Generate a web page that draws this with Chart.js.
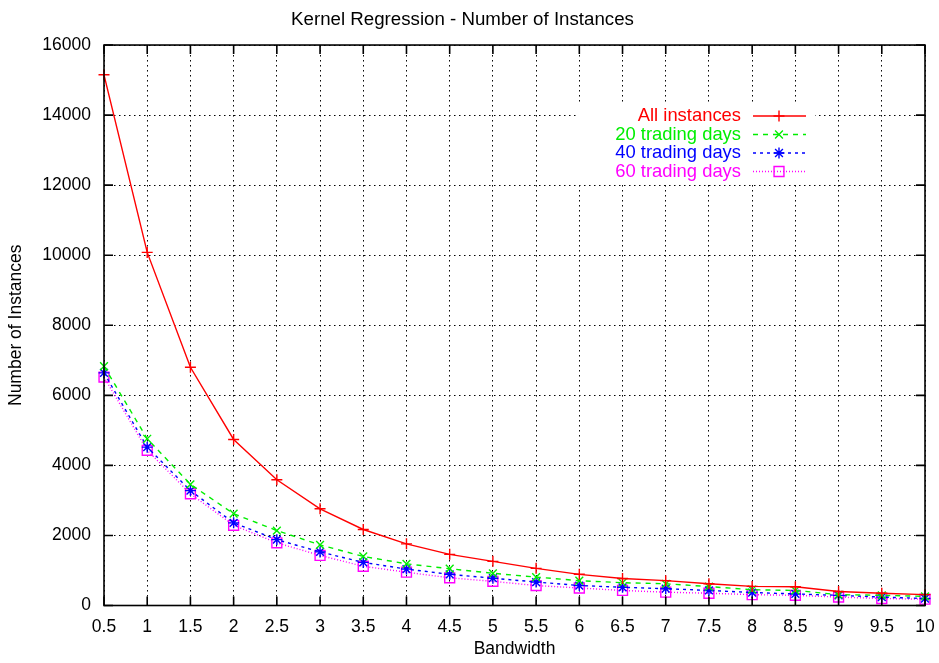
<!DOCTYPE html>
<html lang="en">
<head>
<meta charset="UTF-8">
<title>Kernel Regression - Number of Instances</title>
<script src="https://cdn.jsdelivr.net/npm/chart.js"></script>
<style>
  html, body { margin: 0; padding: 0; background: #fff; }
  #wrap { width: 939px; height: 663px; }
</style>
</head>
<body>
<div id="wrap"><canvas id="chart" width="939" height="663"></canvas></div>
<script>
// values
const bandwidth = [0.5, 1, 1.5, 2, 2.5, 3, 3.5, 4, 4.5, 5, 5.5, 6, 6.5, 7, 7.5, 8, 8.5, 9, 9.5, 10];
const allInstances = [15150, 10080, 6800, 4740, 3590, 2760, 2170, 1760, 1460, 1260, 1060, 890, 770, 710, 620, 545, 535, 400, 350, 310];
const days20 = [6830, 4760, 3460, 2620, 2140, 1730, 1400, 1190, 1050, 920, 810, 710, 650, 620, 540, 450, 430, 310, 290, 260];
const days40 = [6640, 4520, 3280, 2360, 1880, 1530, 1230, 1040, 890, 780, 670, 570, 520, 480, 430, 370, 330, 290, 240, 200];
const days60 = [6520, 4430, 3190, 2290, 1790, 1430, 1120, 950, 790, 690, 570, 500, 430, 380, 350, 310, 290, 240, 200, 180];
const seriesNames = ['All instances', '20 trading days', '40 trading days', '60 trading days'];
const xTicks = [0.5, 1, 1.5, 2, 2.5, 3, 3.5, 4, 4.5, 5, 5.5, 6, 6.5, 7, 7.5, 8, 8.5, 9, 9.5, 10];
const yTicks = [0, 2000, 4000, 6000, 8000, 10000, 12000, 14000, 16000];

const FONT = '"Liberation Sans", Arial, Helvetica, sans-serif';

function pts(arr) {
  return bandwidth.map((b, i) => ({ x: b, y: arr[i] }));
}

function ds(label, arr, color, dash, style, radius) {
  return {
    label: label,
    data: pts(arr),
    borderColor: color,
    backgroundColor: color,
    borderWidth: 1.4,
    borderDash: dash,
    pointStyle: style,
    pointRadius: radius,
    pointBorderWidth: 1.4,
    pointBorderColor: color,
    pointBackgroundColor: 'rgba(0,0,0,0)',
    tension: 0,
    clip: false
  };
}

// gnuplot-like frame, inward ticks and the boxed key
const gnuplotBits = {
  id: 'gnuplotBits',
  beforeDatasetsDraw(chart) {
    const ctx = chart.ctx;
    ctx.save();
    ctx.fillStyle = '#fff';
    ctx.fillRect(576, 104, 239, 78);
    ctx.restore();
  },
  afterDraw(chart) {
    const ctx = chart.ctx;
    const a = chart.chartArea;
    const xs = chart.scales.x, ys = chart.scales.y;
    ctx.save();
    ctx.strokeStyle = '#000';
    ctx.lineWidth = 1.6;
    ctx.setLineDash([]);
    ctx.strokeRect(a.left, a.top, a.right - a.left, a.bottom - a.top);
    const tl = 9;
    ctx.beginPath();
    xTicks.forEach(v => {
      const px = xs.getPixelForValue(v);
      ctx.moveTo(px, a.bottom); ctx.lineTo(px, a.bottom - tl);
      ctx.moveTo(px, a.top); ctx.lineTo(px, a.top + tl);
    });
    yTicks.forEach(v => {
      const py = ys.getPixelForValue(v);
      ctx.moveTo(a.left, py); ctx.lineTo(a.left + tl, py);
      ctx.moveTo(a.right, py); ctx.lineTo(a.right - tl, py);
    });
    ctx.stroke();

    // key
    ctx.font = '18.4px ' + FONT;
    ctx.textAlign = 'right';
    ctx.textBaseline = 'middle';
    const rowY = [116, 134.5, 153, 171.5];
    chart.data.datasets.forEach((d, i) => {
      const y = rowY[i];
      ctx.fillStyle = d.borderColor;
      ctx.fillText(d.label, 741, y);
      ctx.strokeStyle = d.borderColor;
      ctx.lineWidth = d.borderWidth;
      ctx.setLineDash(d.borderDash || []);
      ctx.beginPath();
      ctx.moveTo(753, y); ctx.lineTo(806, y);
      ctx.stroke();
      ctx.setLineDash([]);
      ctx.fillStyle = 'rgba(0,0,0,0)';
      Chart.helpers.drawPoint(ctx, {
        pointStyle: d.pointStyle, radius: d.pointRadius, rotation: 0, borderWidth: d.pointBorderWidth
      }, 779, y);
    });
    ctx.restore();
  }
};

new Chart(document.getElementById('chart'), {
  type: 'line',
  data: {
    datasets: [
      ds(seriesNames[0], allInstances, '#ff0000', [], 'cross', 5.5),
      ds(seriesNames[1], days20, '#00ee00', [5, 5], 'crossRot', 5.5),
      ds(seriesNames[2], days40, '#0000ff', [3, 4], 'star', 5.5),
      ds(seriesNames[3], days60, '#ff00ff', [1, 2], 'rect', 7)
    ]
  },
  options: {
    responsive: false,
    animation: false,
    layout: { padding: { top: 0, right: 14, bottom: 0, left: 0 } },
    plugins: {
      legend: { display: false },
      tooltip: { enabled: false },
      title: {
        display: true,
        text: 'Kernel Regression - Number of Instances',
        color: '#000',
        font: { family: FONT, size: 18.7, weight: 'normal' },
        padding: { top: 9, bottom: 13.6 }
      }
    },
    scales: {
      x: {
        type: 'linear',
        min: 0.5,
        max: 10,
        afterBuildTicks: s => { s.ticks = xTicks.map(v => ({ value: v })); },
        afterFit: s => { s.height = 57.5; s.paddingLeft = 0; s.paddingRight = 0; },
        ticks: {
          color: '#000',
          padding: 11,
          maxRotation: 0,
          autoSkip: false,
          font: { family: FONT, size: 17.5 },
          callback: v => String(v)
        },
        grid: { color: '#000', lineWidth: 1, drawTicks: false },
        border: { display: false, dash: [1.5, 3.5] },
        title: {
          display: true,
          text: 'Bandwidth',
          color: '#000',
          font: { family: FONT, size: 17.5 },
          padding: { top: 0, bottom: 3 }
        }
      },
      y: {
        type: 'linear',
        min: 0,
        max: 16000,
        afterBuildTicks: s => { s.ticks = yTicks.map(v => ({ value: v })); },
        afterFit: s => { s.width = 104; s.paddingTop = 0; s.paddingBottom = 0; },
        ticks: {
          color: '#000',
          padding: 13,
          font: { family: FONT, size: 17.5 },
          callback: v => String(v)
        },
        grid: { color: '#000', lineWidth: 1, drawTicks: false },
        border: { display: false, dash: [1.5, 3.5] },
        title: {
          display: true,
          text: 'Number of Instances',
          color: '#000',
          font: { family: FONT, size: 17.5 },
          padding: { top: 6, bottom: 0 }
        }
      }
    }
  },
  plugins: [gnuplotBits]
});
</script>
</body>
</html>
